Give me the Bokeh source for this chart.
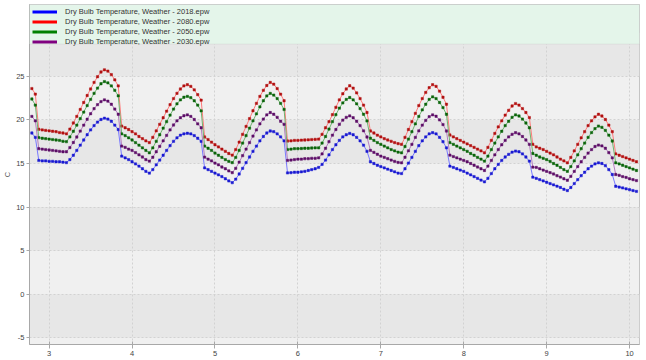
import numpy as np
from bokeh.plotting import figure
from bokeh.models import Range1d, FixedTicker, BoxAnnotation, Legend, LegendItem
from bokeh.embed import file_html
from bokeh.resources import INLINE

# ---------------- data (hourly values, day 2 19:00 -> day 10 02:00) ----------------
series_labels = [
    "Dry Bulb Temperature, Weather - 2018.epw",
    "Dry Bulb Temperature, Weather - 2080.epw",
    "Dry Bulb Temperature, Weather - 2050.epw",
    "Dry Bulb Temperature, Weather - 2030.epw",
]
start_day = 2 + 19 / 24.0

t2018 = [
    18.5, 18.0, 15.35, 15.3, 15.3,
    15.25, 15.25, 15.2, 15.2, 15.15, 15.1, 15.45, 15.95, 16.5, 17.1, 17.7, 18.3, 18.85, 19.35, 19.75, 20.05, 20.2, 20.1, 19.85, 19.4, 18.9, 15.85, 15.65, 15.45,
    15.2, 14.95, 14.7, 14.4, 14.1, 13.9, 14.3, 14.85, 15.4, 15.95, 16.5, 17.05, 17.55, 17.95, 18.25, 18.4, 18.47, 18.4, 18.2, 17.9, 17.55, 14.5, 14.3, 14.1,
    13.9, 13.7, 13.5, 13.25, 13.0, 12.8, 13.2, 13.8, 14.45, 15.1, 15.75, 16.4, 17.0, 17.6, 18.1, 18.5, 18.73, 18.65, 18.4, 18.05, 17.6, 13.92, 13.95, 14.0,
    14.0, 14.05, 14.1, 14.2, 14.3, 14.4, 14.55, 14.9, 15.4, 16.0, 16.6, 17.15, 17.65, 18.05, 18.3, 18.45, 18.3, 18.0, 17.6, 17.1, 16.4, 15.2, 15.0, 14.8,
    14.65, 14.5, 14.35, 14.2, 14.05, 13.9, 13.85, 14.4, 15.05, 15.7, 16.4, 17.05, 17.6, 18.05, 18.4, 18.54, 18.4, 18.0, 17.5, 16.8, 14.7, 14.55, 14.4, 14.25,
    14.1, 13.9, 13.7, 13.5, 13.3, 13.1, 12.9, 13.3, 13.85, 14.4, 14.9, 15.35, 15.75, 16.05, 16.3, 16.43, 16.35, 16.1, 15.75, 15.27, 13.43, 13.3, 13.15, 13.0,
    12.85, 12.7, 12.55, 12.4, 12.25, 12.05, 11.9, 12.25, 12.7, 13.15, 13.6, 14.0, 14.4, 14.7, 14.95, 15.08, 15.0, 14.75, 14.3, 13.74, 12.39, 12.3, 12.2, 12.1,
    12.0, 11.9, 11.8,
]

t2030 = [
    20.4, 19.9, 16.7, 16.65, 16.6,
    16.55, 16.5, 16.45, 16.4, 16.35, 16.35, 16.83, 17.41, 18.04, 18.72, 19.4, 20.08, 20.71, 21.29, 21.75, 22.1, 22.3, 22.15, 21.8, 21.25, 20.65, 17.0, 16.85, 16.65,
    16.5, 16.25, 16.0, 15.75, 15.45, 15.27, 15.72, 16.35, 16.97, 17.6, 18.22, 18.85, 19.42, 19.9, 20.25, 20.48, 20.58, 20.4, 20.05, 19.55, 19.1, 15.73, 15.5, 15.3,
    15.05, 14.85, 14.6, 14.4, 14.15, 13.95, 14.45, 15.15, 15.9, 16.65, 17.4, 18.15, 18.85, 19.55, 20.1, 20.58, 20.85, 20.65, 20.3, 19.85, 19.5, 15.35, 15.4, 15.45,
    15.5, 15.5, 15.55, 15.55, 15.6, 15.6, 15.65, 16.1, 16.75, 17.5, 18.25, 18.9, 19.5, 19.98, 20.3, 20.46, 20.25, 19.85, 19.35, 18.75, 18.04, 16.5, 16.28, 16.06,
    15.85, 15.7, 15.55, 15.4, 15.25, 15.12, 15.08, 15.72, 16.46, 17.2, 18.0, 18.75, 19.4, 19.95, 20.37, 20.58, 20.42, 20.0, 19.47, 18.73, 15.96, 15.8, 15.65, 15.5,
    15.35, 15.2, 15.0, 14.8, 14.6, 14.4, 14.2, 14.7, 15.35, 16.0, 16.6, 17.15, 17.65, 18.05, 18.35, 18.54, 18.4, 18.1, 17.7, 17.2, 14.58, 14.55, 14.4, 14.25,
    14.1, 13.95, 13.8, 13.6, 13.45, 13.25, 13.08, 13.53, 14.1, 14.65, 15.2, 15.7, 16.2, 16.6, 16.95, 17.12, 17.02, 16.75, 16.25, 15.65, 13.74, 13.65, 13.5, 13.4,
    13.25, 13.15, 13.04,
]

t2050 = [
    22.4, 21.7, 17.96, 17.9, 17.85,
    17.8, 17.75, 17.7, 17.65, 17.55, 17.5, 18.05, 18.7, 19.4, 20.15, 20.9, 21.65, 22.35, 23.05, 23.65, 24.15, 24.4, 24.25, 23.9, 23.4, 22.77, 18.4, 18.2, 17.95,
    17.7, 17.4, 17.1, 16.8, 16.5, 16.23, 16.8, 17.55, 18.3, 19.05, 19.8, 20.55, 21.25, 21.85, 22.3, 22.6, 22.7, 22.55, 22.2, 21.7, 21.04, 17.0, 16.75, 16.5,
    16.2, 15.95, 15.7, 15.45, 15.25, 15.1, 15.7, 16.5, 17.35, 18.2, 19.05, 19.9, 20.7, 21.5, 22.2, 22.75, 23.04, 22.85, 22.45, 21.9, 21.2, 16.6, 16.65, 16.7,
    16.7, 16.72, 16.75, 16.75, 16.78, 16.8, 16.8, 17.35, 18.1, 18.95, 19.8, 20.6, 21.35, 21.95, 22.35, 22.57, 22.3, 21.85, 21.3, 20.65, 19.88, 17.9, 17.65, 17.4,
    17.2, 17.0, 16.8, 16.6, 16.45, 16.3, 16.23, 16.95, 17.8, 18.65, 19.55, 20.4, 21.15, 21.8, 22.35, 22.65, 22.45, 22.0, 21.42, 20.65, 17.4, 17.2, 17.0, 16.8,
    16.6, 16.4, 16.15, 15.95, 15.7, 15.5, 15.27, 15.85, 16.6, 17.35, 18.05, 18.7, 19.35, 19.85, 20.3, 20.58, 20.45, 20.1, 19.65, 19.1, 16.15, 15.95, 15.75, 15.6,
    15.45, 15.25, 15.0, 14.8, 14.55, 14.3, 14.1, 14.65, 15.3, 16.0, 16.7, 17.35, 18.0, 18.55, 19.0, 19.3, 19.15, 18.8, 18.25, 17.58, 15.08, 14.95, 14.8, 14.65,
    14.5, 14.35, 14.2,
]

t2080 = [
    23.6, 22.96, 18.93, 18.85, 18.8,
    18.75, 18.7, 18.65, 18.55, 18.5, 18.4, 18.95, 19.65, 20.4, 21.2, 22.0, 22.8, 23.55, 24.3, 24.95, 25.5, 25.75, 25.6, 25.2, 24.6, 23.9, 19.3, 19.1, 18.9,
    18.65, 18.4, 18.1, 17.85, 17.6, 17.4, 18.0, 18.75, 19.5, 20.25, 21.0, 21.75, 22.45, 23.05, 23.55, 23.9, 24.04, 23.85, 23.45, 22.9, 22.27, 18.04, 17.75, 17.45,
    17.15, 16.9, 16.65, 16.4, 16.15, 15.96, 16.6, 17.45, 18.35, 19.25, 20.15, 21.05, 21.9, 22.7, 23.4, 23.95, 24.3, 24.1, 23.6, 22.95, 22.2, 17.58, 17.6, 17.65,
    17.65, 17.68, 17.7, 17.72, 17.75, 17.77, 17.8, 18.35, 19.1, 19.8, 20.6, 21.45, 22.3, 23.0, 23.55, 23.92, 23.65, 23.1, 22.45, 21.7, 20.85, 18.73, 18.5, 18.25,
    18.05, 17.85, 17.7, 17.55, 17.4, 17.28, 17.2, 18.0, 18.9, 19.8, 20.75, 21.65, 22.45, 23.15, 23.7, 24.04, 23.85, 23.3, 22.6, 21.8, 18.27, 18.05, 17.85, 17.65,
    17.45, 17.25, 17.05, 16.85, 16.65, 16.45, 16.23, 16.85, 17.65, 18.45, 19.2, 19.9, 20.55, 21.1, 21.6, 21.88, 21.7, 21.3, 20.85, 20.27, 17.2, 16.9, 16.75, 16.6,
    16.4, 16.2, 16.0, 15.75, 15.5, 15.3, 15.08, 15.7, 16.45, 17.2, 17.95, 18.65, 19.35, 19.9, 20.35, 20.65, 20.45, 20.05, 19.4, 18.65, 16.1, 15.95, 15.8, 15.65,
    15.5, 15.35, 15.2,
]

x_ticks = [3, 4, 5, 6, 7, 8, 9, 10]
x_tick_labels = ["3", "4", "5", "6", "7", "8", "9", "10"]
y_ticks = [-5, 0, 5, 10, 15, 20, 25]
y_tick_labels = ["-5", "0", "5", "10", "15", "20", "25"]

# ---------------- styling ----------------
FONT = "Liberation Sans"
series = [
    (t2018, "#7878ff", "#1a1ad0", "#0000ff"),
    (t2080, "#ff7a7a", "#b01010", "#ff0000"),
    (t2050, "#6fb46f", "#0a640a", "#008000"),
    (t2030, "#b47cc0", "#5c0e66", "#800080"),
]

x_hours = start_day + np.arange(len(t2018)) / 24.0
X0, X1 = 2.763, 10.12
Y0, Y1 = -5.76, 33.24

p = figure(width=640, height=358, output_backend="svg", toolbar_location=None,
           x_range=Range1d(X0, X1), y_range=Range1d(Y0, Y1),
           min_border_left=27, min_border_right=1, min_border_top=4, min_border_bottom=14,
           background_fill_color="#f0f0f0", border_fill_color="white",
           outline_line_color="#c4c4c4")

# alternating darker bands between gridlines
for lo in y_ticks[::2]:
    p.add_layout(BoxAnnotation(bottom=lo, top=lo + 5, fill_color="#e7e7e7", fill_alpha=1.0,
                               line_alpha=0, level="image"))

for g in (p.xgrid, p.ygrid):
    g.grid_line_color = "#d2d2d2"
    g.grid_line_dash = "2 2"
    g.grid_line_width = 1
p.xgrid.ticker = FixedTicker(ticks=x_ticks)
p.ygrid.ticker = FixedTicker(ticks=y_ticks)

# data
for vals, lc, mc, _ in series:
    yv = np.array(vals)
    p.line(x_hours, yv, line_color=lc, line_width=1)
    p.scatter(x_hours, yv, marker="square", size=2.3, fill_color=mc, line_color=mc, line_width=0.5)

# legend background strip
p.add_layout(BoxAnnotation(bottom=28.7, top=Y1, left=X0, right=X1,
                           fill_color="#e4f5ea", fill_alpha=1.0,
                           line_color="#c8c8c8", line_width=1))

items = []
for (vals, lc, mc, legc), lab in zip(series, series_labels):
    r = p.line(x=[float("nan")], y=[float("nan")], line_color=legc, line_width=3)
    items.append(LegendItem(label=lab, renderers=[r]))
leg = Legend(items=items, location="top_left", margin=0, padding=3, spacing=1,
             glyph_width=25, glyph_height=9, label_height=9, label_standoff=8,
             label_text_font=FONT, label_text_font_size="7.5px", label_text_color="#333333",
             background_fill_alpha=0, border_line_alpha=0)
p.add_layout(leg)

# axes
p.xaxis.ticker = FixedTicker(ticks=x_ticks)
p.xaxis.major_label_overrides = dict(zip(x_ticks, x_tick_labels))
p.yaxis.ticker = FixedTicker(ticks=y_ticks)
p.yaxis.major_label_overrides = dict(zip(y_ticks, y_tick_labels))
p.yaxis.axis_label = "C"
p.yaxis.axis_label_text_font = FONT
p.yaxis.axis_label_text_font_style = "normal"
p.yaxis.axis_label_text_font_size = "7.5px"
p.yaxis.axis_label_text_color = "#555555"
p.yaxis.axis_label_standoff = 1
for ax in (p.xaxis, p.yaxis):
    ax.axis_line_color = "#a8a8a8"
    ax.major_tick_line_color = "#a8a8a8"
    ax.minor_tick_line_color = None
    ax.major_label_text_font = FONT
    ax.major_label_text_font_size = "7.5px"
    ax.major_label_text_color = "#444444"
    ax.major_label_standoff = 2
p.xaxis.major_tick_in = 3
p.xaxis.major_tick_out = 4
p.yaxis.major_tick_in = 0
p.yaxis.major_tick_out = 3

open("out.html", "w").write(file_html(p, INLINE))
